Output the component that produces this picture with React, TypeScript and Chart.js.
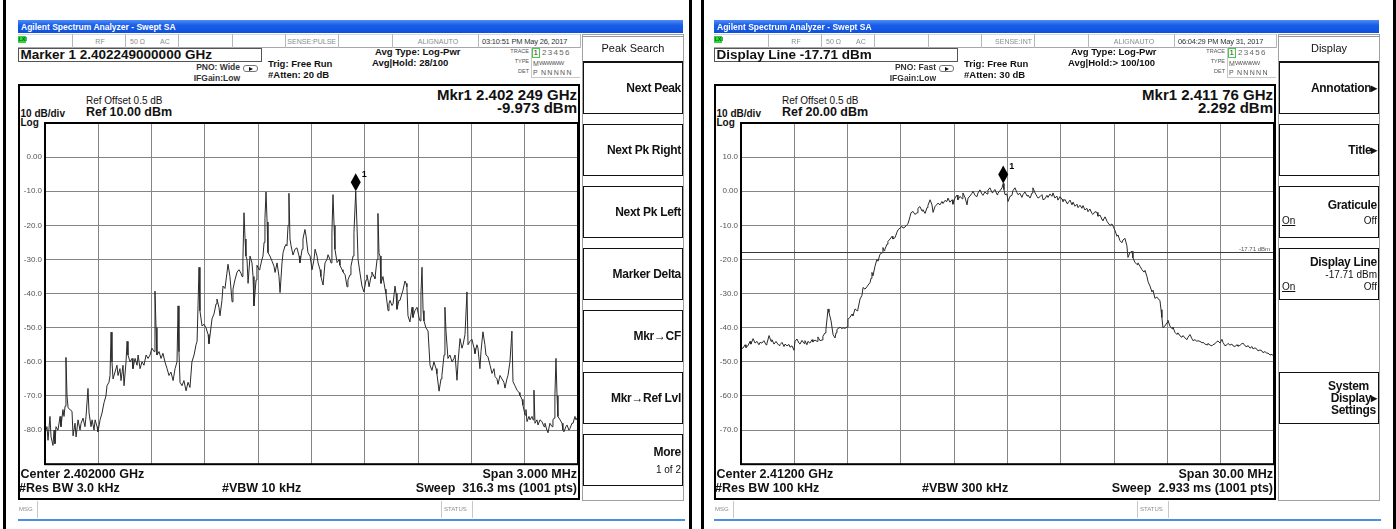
import React, { useEffect, useRef } from "react";
import { Chart, registerables } from "chart.js";
Chart.register(...registerables);

const FONT = '"Liberation Sans", Arial, Helvetica, sans-serif';

type Pt = [number, number];

// ---------------- DATA ----------------
// Left screen: trace 1, [frequency offset from 2.402000 GHz in kHz, level dBm]
const leftTrace: Pt[] = [
  [-1500,-81],[-1489,-79],[-1483,-83],[-1472,-76],[-1466,-82],[-1455,-84.5],[-1449,-80],[-1444,-84],[-1438,-79],[-1427,-80],
  [-1415,-76],[-1410,-79],[-1399,-74],[-1393,-76],[-1387,-73],[-1382,-58.7],[-1376,-70],[-1370,-73.5],[-1359,-74],[-1348,-74.5],
  [-1342,-81.7],[-1331,-78],[-1325,-82],[-1314,-77],[-1303,-80],[-1297,-78],[-1286,-76.5],[-1275,-79],[-1269,-76],[-1258,-67.8],
  [-1252,-75],[-1241,-79],[-1235,-77],[-1224,-80],[-1218,-77],[-1207,-79],[-1202,-80.5],[-1190,-77],[-1179,-75],[-1168,-72],
  [-1157,-70],[-1151,-67],[-1140,-66],[-1134,-64],[-1128,-51.3],[-1123,-60],[-1117,-65],[-1106,-63],[-1095,-61],[-1089,-64],
  [-1078,-62],[-1072,-65.5],[-1061,-61],[-1055,-67],[-1044,-60],[-1038,-54],[-1033,-58],[-1021,-60],[-1010,-59],[-1005,-62],
  [-993,-59],[-982,-61],[-976,-58],[-965,-62],[-954,-60],[-943,-61],[-931,-58],[-920,-59],[-909,-58],[-898,-56],
  [-886,-57],[-881,-39.3],[-875,-50],[-870,-58],[-858,-57],[-847,-59],[-836,-57.5],[-825,-60],[-813,-62],[-802,-64],
  [-791,-63],[-779,-65.5],[-768,-62],[-757,-60],[-751,-43.6],[-746,-57],[-740,-66],[-729,-67],[-718,-65.5],[-706,-68.5],
  [-695,-66],[-684,-67.5],[-673,-60],[-661,-58],[-650,-55],[-644,-54],[-633,-32.3],[-628,-45],[-616,-49.5],[-605,-49],
  [-594,-50],[-582,-52],[-577,-54.7],[-566,-50],[-560,-47.4],[-549,-46],[-537,-43],[-532,-41.6],[-521,-44],[-515,-46.5],
  [-504,-42],[-498,-37.8],[-487,-38.5],[-476,-34],[-470,-31.4],[-459,-35],[-447,-42.4],[-442,-38.7],[-431,-36],[-419,-33.7],
  [-408,-33],[-397,-34],[-391,-35],[-386,-30],[-380,-16.3],[-374,-24],[-369,-29],[-363,-30],[-357,-37],[-346,-29],
  [-335,-31],[-329,-35],[-324,-43.6],[-312,-36],[-307,-31.7],[-295,-33],[-290,-32.5],[-279,-30],[-273,-29],[-267,-25],
  [-262,-18],[-256,-10.2],[-250,-19],[-245,-28],[-234,-29],[-222,-30.5],[-211,-32],[-205,-33.8],[-194,-31],[-183,-35],
  [-177,-39.7],[-166,-31],[-160,-28],[-149,-26],[-144,-25.6],[-138,-26],[-132,-20],[-127,-10.6],[-121,-24],[-115,-26],
  [-104,-28.7],[-93,-27],[-82,-26.6],[-70,-29],[-65,-31],[-53,-27],[-48,-24],[-37,-21.2],[-31,-23],[-20,-28],
  [-8,-29],[3,-33],[14,-30],[20,-27],[31,-29],[37,-31],[48,-33],[53,-35],[65,-37.5],[76,-31],
  [87,-30],[93,-28.6],[104,-30],[110,-31],[115,-22],[121,-11],[127,-20],[132,-27],[144,-30.9],[155,-30],
  [160,-31.7],[172,-33],[177,-33.6],[189,-34.5],[200,-38],[205,-36],[217,-34.5],[222,-32],[234,-29],[239,-22],
  [249,-9.973],[256,-20],[262,-30],[273,-34],[284,-37.8],[295,-39.5],[307,-36],[312,-34.5],[318,-36],[324,-38],
  [335,-35],[340,-33.7],[352,-35],[357,-35.6],[369,-30],[374,-16.5],[380,-28.2],[386,-29],[391,-37],[402,-35],
  [414,-38.7],[419,-40],[431,-45],[436,-43],[442,-42],[453,-43.5],[459,-43],[470,-37.8],[476,-40],[481,-44.6],
  [492,-42],[498,-42],[509,-40],[515,-39],[526,-36.3],[532,-37],[537,-38],[543,-46.5],[554,-48.3],[566,-44],
  [571,-47],[582,-45],[594,-44],[605,-47],[611,-48],[616,-40],[622,-32.3],[628,-45],[633,-48],[644,-50],
  [656,-51],[667,-61],[678,-62.5],[689,-60],[701,-62],[706,-63.5],[718,-68.6],[729,-65],[734,-64],[746,-58],
  [751,-44],[757,-51],[768,-59],[779,-58],[791,-60],[802,-59],[808,-58],[819,-65.4],[825,-60],[836,-53.2],
  [847,-56],[853,-55],[864,-52],[875,-39.5],[881,-55],[892,-54],[903,-53.4],[915,-56],[920,-57.6],[931,-55],
  [937,-56],[948,-62],[954,-57],[965,-51.2],[976,-55],[982,-58],[993,-58.5],[1005,-61],[1016,-63.4],[1027,-62],
  [1033,-64.3],[1044,-65],[1050,-66.6],[1061,-64],[1072,-65],[1083,-66],[1089,-67.7],[1100,-65],[1106,-64],[1117,-60],
  [1128,-51],[1134,-65.8],[1145,-67],[1157,-68.3],[1168,-69],[1173,-69.8],[1185,-71],[1190,-72.7],[1202,-75.6],[1207,-74],
  [1213,-77.5],[1224,-76],[1230,-77],[1241,-76],[1247,-77],[1252,-68.3],[1258,-78],[1269,-77],[1275,-78.5],[1286,-77],
  [1297,-77.5],[1309,-79],[1314,-78],[1325,-80],[1331,-80.8],[1342,-78],[1354,-79],[1359,-77],[1365,-76.5],[1370,-70],
  [1376,-59],[1382,-70],[1387,-76],[1399,-77],[1410,-78],[1415,-80],[1421,-80.5],[1432,-79],[1438,-78.5],[1449,-80],
  [1455,-79.5],[1466,-78],[1472,-78],[1483,-76],[1489,-77],[1500,-76],
];
const leftXTicksKHz = [-1500, -1200, -900, -600, -300, 0, 300, 600, 900, 1200, 1500];
const leftYTicksDbm = [10, 0, -10, -20, -30, -40, -50, -60, -70, -80, -90];
const leftMarker = { freq: 249, level: -9.973 };

// Right screen: trace 1, [frequency offset from span start 2.397 GHz in MHz, level dBm]
const rightTrace: Pt[] = [
  [0,-46],[0.11,-46],[0.23,-45],[0.28,-45.8],[0.39,-45.3],[0.51,-44],[0.56,-44.8],[0.68,-43.2],[0.79,-44.5],[0.90,-44],
  [1.01,-45],[1.07,-44.3],[1.18,-44.5],[1.29,-43.8],[1.41,-45],[1.46,-44.6],[1.58,-42.3],[1.69,-44],[1.74,-43.5],[1.86,-44.8],
  [1.97,-44],[2.03,-44.5],[2.14,-45.2],[2.19,-45],[2.31,-44.3],[2.42,-45.5],[2.48,-44.8],[2.59,-45.3],[2.70,-44.9],[2.76,-45.7],
  [2.87,-45.3],[2.98,-46.6],[3.04,-44],[3.15,-43.3],[3.26,-44.5],[3.32,-44.8],[3.43,-43.7],[3.55,-44.6],[3.60,-43.8],[3.71,-45],
  [3.77,-44],[3.88,-44.5],[4.00,-43.5],[4.05,-44.2],[4.16,-43.6],[4.28,-44],[4.33,-42.7],[4.45,-43.8],[4.56,-43.6],[4.61,-42.5],
  [4.73,-41.5],[4.78,-40.5],[4.90,-34.5],[4.95,-35.5],[5.07,-38],[5.18,-42],[5.29,-43],[5.35,-41.5],[5.40,-40.5],[5.52,-40],
  [5.57,-39.8],[5.68,-40.3],[5.74,-40],[5.85,-40.2],[5.97,-39.8],[6.02,-37.5],[6.13,-37],[6.25,-36],[6.30,-36.5],[6.42,-34.5],
  [6.53,-35],[6.58,-34.6],[6.70,-31.6],[6.81,-30.5],[6.87,-28.2],[6.98,-28.7],[7.09,-28],[7.15,-27.5],[7.26,-26.8],[7.32,-25.5],
  [7.37,-23.8],[7.43,-24.8],[7.54,-22],[7.65,-20],[7.71,-20.5],[7.82,-18.5],[7.94,-18],[7.99,-16.5],[8.05,-17.4],[8.10,-17],
  [8.22,-15.5],[8.27,-14.7],[8.39,-14],[8.50,-13.2],[8.55,-14],[8.67,-13.6],[8.78,-12],[8.84,-11.3],[8.95,-10.8],[9.06,-10.3],
  [9.12,-10.8],[9.23,-10.5],[9.34,-9.8],[9.40,-9.5],[9.51,-7.5],[9.57,-6.3],[9.68,-5.9],[9.79,-6.8],[9.91,-6.3],[9.96,-5],
  [10.07,-4.5],[10.19,-5.8],[10.24,-5.4],[10.36,-6.5],[10.47,-4.8],[10.52,-4.2],[10.64,-2.5],[10.75,-4],[10.81,-6.2],[10.92,-4.5],
  [11.03,-3.8],[11.09,-3.5],[11.20,-4],[11.31,-3],[11.37,-3.6],[11.48,-2.7],[11.59,-3],[11.65,-2],[11.76,-3.2],[11.88,-2.5],
  [11.93,-3.8],[12.04,-2],[12.16,-1.1],[12.21,-2.5],[12.33,-1.5],[12.44,-2.2],[12.49,-0.5],[12.61,-1.8],[12.72,-4],[12.78,-2],
  [12.89,-1.4],[13.00,-0.6],[13.06,0],[13.17,-1.2],[13.28,-1.6],[13.34,-0.5],[13.45,0.4],[13.56,-0.8],[13.62,-1.2],[13.73,-0.2],
  [13.85,-0.8],[13.90,0.3],[14.01,1],[14.13,-0.4],[14.18,-0.1],[14.30,0.5],[14.41,-1],[14.46,-0.6],[14.58,0.2],[14.69,1],
  [14.76,2.292],[14.80,0.5],[14.86,-1],[14.97,-0.8],[15.03,-3],[15.14,-1.5],[15.25,-1.2],[15.31,0.2],[15.42,1],[15.53,-0.4],
  [15.59,-1],[15.70,-0.6],[15.81,-1.8],[15.87,-1],[15.98,-0.2],[16.10,-1.4],[16.15,-1.1],[16.27,-2],[16.38,-0.5],[16.43,1],
  [16.55,-0.5],[16.66,-1.5],[16.72,-2],[16.83,-1.6],[16.94,-1],[17.00,-2.5],[17.11,-2.2],[17.22,-1.2],[17.28,-1.8],[17.39,-0.8],
  [17.50,-1.5],[17.56,-0.5],[17.67,-2],[17.78,-1.4],[17.84,-2.6],[17.95,-1.6],[18.07,-2.3],[18.12,-3],[18.24,-2.4],[18.35,-3.6],
  [18.40,-3.4],[18.52,-2.6],[18.63,-4],[18.69,-3.2],[18.80,-4.4],[18.91,-3.8],[18.97,-4.8],[19.08,-4.1],[19.19,-5],[19.25,-4.2],
  [19.36,-5.5],[19.47,-5],[19.53,-6],[19.64,-5.2],[19.75,-6.5],[19.81,-6.8],[19.92,-6],[20.04,-6.2],[20.09,-7.3],[20.21,-7],
  [20.32,-8.3],[20.37,-8.6],[20.49,-7.5],[20.60,-8.8],[20.66,-9.3],[20.77,-10],[20.88,-9.6],[20.94,-10.2],[21.05,-11.5],[21.16,-13.2],
  [21.22,-12.8],[21.33,-14.5],[21.44,-15.1],[21.50,-14.3],[21.61,-13.8],[21.72,-16],[21.78,-19.4],[21.89,-18],[22.01,-17.6],[22.06,-19.5],
  [22.17,-20.8],[22.29,-21.5],[22.34,-21],[22.46,-22],[22.57,-23],[22.68,-23.7],[22.74,-23.2],[22.85,-25],[22.91,-26.5],[23.02,-27.8],
  [23.13,-29.5],[23.19,-29],[23.30,-31.4],[23.41,-31],[23.47,-31.5],[23.58,-32],[23.64,-34.7],[23.69,-37],[23.75,-40],[23.86,-39.5],
  [23.98,-38.5],[24.03,-37.8],[24.14,-39.5],[24.26,-40.3],[24.31,-39.8],[24.43,-41.4],[24.54,-42],[24.59,-41.5],[24.71,-42.4],[24.82,-42.8],
  [24.88,-42.3],[24.99,-43],[25.10,-43.5],[25.16,-42.8],[25.27,-42],[25.38,-43.2],[25.44,-43.8],[25.55,-43.5],[25.66,-44],[25.72,-43.8],
  [25.83,-44],[25.95,-44.4],[26.00,-44.2],[26.11,-44.8],[26.23,-45],[26.28,-44.6],[26.40,-45.1],[26.51,-45.3],[26.56,-45],[26.68,-44.7],
  [26.79,-44],[26.85,-43.9],[26.96,-44.5],[27.07,-43.4],[27.13,-44.3],[27.24,-45.3],[27.35,-45],[27.41,-44.6],[27.52,-45.1],[27.63,-44.8],
  [27.69,-45.3],[27.80,-45.5],[27.92,-45],[27.97,-45.4],[28.08,-45.2],[28.20,-44.6],[28.25,-44.5],[28.37,-45.3],[28.48,-45.6],[28.53,-45.2],
  [28.65,-46],[28.76,-45.5],[28.82,-46.2],[28.93,-45.9],[29.04,-46.3],[29.10,-46.8],[29.21,-46.5],[29.32,-46.8],[29.38,-47.3],[29.49,-47],
  [29.60,-47.5],[29.66,-47.4],[29.77,-48],[29.89,-47.8],[30.00,-48.5],
];
const rightXTicksMHz = [0, 3, 6, 9, 12, 15, 18, 21, 24, 27, 30];
const rightYTicksDbm = [20, 10, 0, -10, -20, -30, -40, -50, -60, -70, -80];
const rightMarker = { freq: 14.76, level: 2.292 };
const rightDisplayLineDbm = -17.71;

// ---------------- HELPERS ----------------
type TP = { x: number; y: number; s?: number; b?: boolean; a?: "left" | "right" | "center"; c?: string; u?: boolean; ls?: number; children: React.ReactNode };
function T({ x, y, s = 10, b = false, a = "left", c = "#000", u = false, ls = 0, children }: TP) {
  const style: React.CSSProperties = {
    position: "absolute",
    top: y - 0.8465 * s,
    fontFamily: FONT,
    fontSize: s,
    lineHeight: `${s}px`,
    fontWeight: b ? "bold" : "normal",
    color: c,
    whiteSpace: "pre",
    letterSpacing: ls,
    textDecoration: u ? "underline" : "none",
  };
  if (a === "left") style.left = x;
  else if (a === "right") { style.left = x - 500; style.width = 500; style.textAlign = "right"; }
  else { style.left = x - 250; style.width = 500; style.textAlign = "center"; }
  return <div style={style}>{children}</div>;
}

function Box({ x, y, w, h, st }: { x: number; y: number; w: number; h: number; st?: React.CSSProperties }) {
  return <div style={{ position: "absolute", left: x, top: y, width: w, height: h, boxSizing: "border-box", ...st }} />;
}

// ---------------- CHART ----------------
type ChartProps = { ox: number; trace: Pt[]; xTicks: number[]; yTicks: number[]; marker: { freq: number; level: number }; displayLine?: number | null };

function SpectrumChart({ ox, trace, xTicks, yTicks, marker, displayLine = null }: ChartProps) {
  const ref = useRef<HTMLCanvasElement | null>(null);
  useEffect(() => {
    if (!ref.current) return;
    const xMin = xTicks[0], xMax = xTicks[xTicks.length - 1];
    const yMax = yTicks[0], yMin = yTicks[yTicks.length - 1];
    const overlay = {
      id: "saOverlay",
      afterDatasetsDraw(chart: any) {
        const { ctx, chartArea: a } = chart;
        const xs = chart.scales.x, ys = chart.scales.y;
        ctx.save();
        if (displayLine !== null) {
          const py = Math.round(ys.getPixelForValue(displayLine)) + 0.5;
          ctx.strokeStyle = "#3a3a3a";
          ctx.lineWidth = 1;
          ctx.beginPath();
          ctx.moveTo(a.left, py);
          ctx.lineTo(a.right, py);
          ctx.stroke();
          ctx.font = `6px ${FONT}`;
          ctx.fillStyle = "#555";
          ctx.textAlign = "right";
          ctx.textBaseline = "alphabetic";
          ctx.fillText(`${displayLine.toFixed(2)} dBm`, a.right - 4, py - 2);
        }
        ctx.strokeStyle = "#000";
        ctx.lineWidth = 2;
        ctx.strokeRect(a.left, a.top, a.right - a.left, a.bottom - a.top);
        const mx = xs.getPixelForValue(marker.freq);
        const my = ys.getPixelForValue(marker.level);
        ctx.fillStyle = "#000";
        ctx.beginPath();
        ctx.moveTo(mx, my - 18);
        ctx.lineTo(mx + 5, my - 9);
        ctx.lineTo(mx, my);
        ctx.lineTo(mx - 5, my - 9);
        ctx.closePath();
        ctx.fill();
        ctx.font = `bold 9px ${FONT}`;
        ctx.textAlign = "left";
        ctx.textBaseline = "alphabetic";
        ctx.fillText("1", mx + 6, my - 14);
        ctx.restore();
      },
    };
    const chart = new Chart(ref.current, {
      type: "line",
      data: {
        datasets: [
          {
            data: trace.map(([x, y]) => ({ x, y })),
            borderColor: "#2a2a2a",
            borderWidth: 1,
            pointRadius: 0,
            tension: 0,
            fill: false,
          },
        ],
      },
      options: {
        animation: false,
        responsive: false,
        maintainAspectRatio: false,
        devicePixelRatio: 1,
        layout: { padding: { left: 0, top: 11, right: 2, bottom: 6 } },
        plugins: { legend: { display: false }, tooltip: { enabled: false } },
        scales: {
          x: {
            type: "linear",
            min: xMin,
            max: xMax,
            afterBuildTicks: (s: any) => { s.ticks = xTicks.map((v) => ({ value: v })); },
            afterFit: (s: any) => { s.height = 0; },
            ticks: { display: false },
            grid: { color: "#858585", lineWidth: 1, drawTicks: false },
            border: { display: false },
          },
          y: {
            type: "linear",
            min: yMin,
            max: yMax,
            afterBuildTicks: (s: any) => { s.ticks = yTicks.map((v) => ({ value: v })); },
            afterFit: (s: any) => { s.width = 26; },
            ticks: {
              font: { family: "Liberation Sans", size: 8 },
              color: "#555",
              padding: 3,
              callback: (v: any) => {
                const n = Number(v);
                if (n === yMax || n === yMin) return "";
                return n === 0 ? "0.00" : n.toFixed(1);
              },
            },
            grid: { color: "#858585", lineWidth: 1, drawTicks: false },
            border: { display: false },
          },
        },
      } as any,
      plugins: [overlay],
    });
    return () => chart.destroy();
  }, []);
  return (
    <canvas
      ref={ref}
      width={561}
      height={360}
      style={{ position: "absolute", left: ox + 19, top: 112, width: 561, height: 360 }}
    />
  );
}

// ---------------- SCREEN ----------------
type PanelText = {
  sense: string; time: string; headline: string; pno: string; atten: string; avgHold: string;
  ref: string; mkrFreq: string; mkrLevel: string; center: string; rbw: string; vbw: string; vbwX: number; span: string; sweep: string;
};

function Screen({ ox, p, children }: { ox: number; p: PanelText; children: React.ReactNode }) {
  const X = (v: number) => ox + v;
  const dividers = [72, 125, 178, 232, 285, 338, 392, 478];
  const grey = "#8c8c8c";
  return (
    <>
      {/* title bar */}
      <Box x={X(18)} y={20} w={665} h={13} st={{ background: "linear-gradient(180deg,#4d8cf8 0%,#1a5ee8 40%,#0d50dc 100%)" }} />
      <T x={X(21)} y={30} s={8.5} b c="#fff">Agilent Spectrum Analyzer - Swept SA</T>
      {/* status row */}
      <Box x={X(18)} y={34} w={562} h={14} st={{ borderBottom: "1px solid #a8a8a8", borderTop: "1px solid #d8d8d8" }} />
      {dividers.map((d) => <Box key={d} x={X(d)} y={34} w={1} h={14} st={{ background: "#b8b8b8" }} />)}
      <Box x={X(580)} y={34} w={1} h={14} st={{ background: "#b8b8b8" }} />
      <Box x={X(18)} y={36} w={8} h={7} st={{ background: "#33d633" }} />
      <T x={X(18.5)} y={42} s={5.5} b c="#063">LXI</T>
      <T x={X(100)} y={44} s={7} a="center" c={grey}>RF</T>
      <T x={X(130)} y={44} s={7} c={grey}>50 Ω</T>
      <T x={X(160)} y={44} s={7} c={grey}>AC</T>
      <T x={X(336)} y={44} s={7} a="right" c={grey}>{p.sense}</T>
      <T x={X(438)} y={44} s={7} a="center" c={grey}>ALIGNAUTO</T>
      <T x={X(482)} y={44} s={7.5} c="#333" ls={-0.2}>{p.time}</T>

      {/* headline box */}
      <Box x={X(18)} y={48} w={244} h={14} st={{ border: "1px solid #555" }} />
      <T x={X(20.5)} y={59} s={13.5} b c="#111">{p.headline}</T>
      <T x={X(240)} y={70.5} s={8.5} b a="right" c="#333">{p.pno}</T>
      <T x={X(240)} y={81} s={8.5} b a="right" c="#333">IFGain:Low</T>
      <Box x={X(243)} y={65} w={15} h={7} st={{ border: "1px solid #777", borderRadius: 3 }} />
      <div style={{ position: "absolute", left: X(249), top: 67, width: 0, height: 0, borderTop: "2px solid transparent", borderBottom: "2px solid transparent", borderLeft: "4px solid #111" }} />
      <T x={X(268)} y={67} s={9.5} b c="#111">Trig: Free Run</T>
      <T x={X(268)} y={78.5} s={9.5} b c="#111">{p.atten}</T>
      <T x={X(375)} y={55} s={9.5} b c="#111">Avg Type: Log-Pwr</T>
      <T x={X(372)} y={66.5} s={9.5} b c="#111">{p.avgHold}</T>

      {/* trace table */}
      <Box x={X(531)} y={47} w={49} h={31} st={{ borderLeft: "1px solid #c8c8c8", borderBottom: "1px solid #c8c8c8" }} />
      <T x={X(529)} y={54} s={5.5} a="right" c="#555">TRACE</T>
      <T x={X(529)} y={64} s={5.5} a="right" c="#555">TYPE</T>
      <T x={X(529)} y={74} s={5.5} a="right" c="#555">DET</T>
      <Box x={X(532)} y={48} w={8} h={10} st={{ border: "1px solid #4c4" }} />
      <T x={X(533.5)} y={56} s={8} c="#333">1</T>
      <T x={X(542)} y={56} s={8} c="#666" ls={1.3}>23456</T>
      <T x={X(533)} y={65.5} s={7} c="#555">M</T>
      <T x={X(539)} y={65.5} s={6} c="#555" ls={-0.8}>WWWWW</T>
      <T x={X(533)} y={75} s={7} c="#555">P</T>
      <T x={X(541)} y={75} s={7} c="#555" ls={1.3}>NNNNN</T>

      {/* big frame */}
      <Box x={X(18)} y={84} w={562} h={416} st={{ border: "2px solid #000" }} />
      <T x={X(86)} y={104} s={10} c="#111">Ref Offset 0.5 dB</T>
      <T x={X(86)} y={117} s={12.5} b c="#111">{p.ref}</T>
      <T x={X(20.5)} y={117} s={10} b c="#111">10 dB/div</T>
      <T x={X(20.5)} y={126} s={10} b c="#111">Log</T>
      <T x={X(577)} y={100} s={15} b a="right" c="#111">{p.mkrFreq}</T>
      <T x={X(577)} y={112.5} s={15} b a="right" c="#111">{p.mkrLevel}</T>

      {children}

      <T x={X(20.5)} y={479} s={12.5} b c="#111">{p.center}</T>
      <T x={X(19)} y={493} s={12.5} b c="#111">{p.rbw}</T>
      <T x={X(p.vbwX)} y={493} s={12.5} b c="#111">{p.vbw}</T>
      <T x={X(577)} y={479} s={12.5} b a="right" c="#111">{p.span}</T>
      <T x={X(577)} y={493} s={12.5} b a="right" c="#111">{p.sweep}</T>

      {/* message row */}
      <T x={X(19)} y={511} s={6} c={grey}>MSG</T>
      <Box x={X(37)} y={501} w={1} h={17} st={{ background: "#c8c8c8" }} />
      <Box x={X(441)} y={501} w={1} h={17} st={{ background: "#c8c8c8" }} />
      <Box x={X(472)} y={501} w={1} h={17} st={{ background: "#c8c8c8" }} />
      <T x={X(444)} y={511} s={6} c={grey}>STATUS</T>
      <Box x={X(18)} y={519} w={667} h={1.5} st={{ background: "#4a8fe0" }} />

      {/* softkey frame */}
      <Box x={X(582)} y={34} w={102} h={467} st={{ border: "1px solid #a0a0a0" }} />
      <Box x={X(583)} y={36} w={100} h={26} st={{ borderTop: "1px solid #999", borderBottom: "1.5px solid #111" }} />
    </>
  );
}

function Key({ ox, top }: { ox: number; top: number }) {
  return <Box x={ox + 583} y={top} w={100} h={52} st={{ border: "1.5px solid #111" }} />;
}

function LeftMenu({ ox }: { ox: number }) {
  const R = ox + 681;
  const keys = [62, 124, 186, 248, 310, 372, 434];
  const labels = ["Next Peak", "Next Pk Right", "Next Pk Left", "Marker Delta", "Mkr\u2192CF", "Mkr\u2192Ref Lvl"];
  return (
    <>
      <T x={ox + 633} y={52} s={11} a="center" c="#111">Peak Search</T>
      {keys.map((k) => <Key key={k} ox={ox} top={k} />)}
      {labels.map((l, i) => (
        <T key={l} x={R} y={keys[i] + 30.5} s={12} b a="right" c="#111" ls={-0.3}>{l}</T>
      ))}
      <T x={R} y={456.5} s={12} b a="right" c="#111" ls={-0.3}>More</T>
      <T x={R} y={473} s={10} a="right" c="#111">1 of 2</T>
    </>
  );
}

function RightMenu({ ox }: { ox: number }) {
  const R = ox + 681;
  const L = ox + 586;
  return (
    <>
      <T x={ox + 633} y={52} s={11} a="center" c="#111">Display</T>
      {[62, 124, 186, 248, 372].map((k) => <Key key={k} ox={ox} top={k} />)}
      <T x={R} y={92.5} s={12} b a="right" c="#111" ls={-0.3}>Annotation▸</T>
      <T x={R} y={154.5} s={12} b a="right" c="#111" ls={-0.3}>Title▸</T>
      <T x={R} y={209} s={12} b a="right" c="#111" ls={-0.3}>Graticule</T>
      <T x={L} y={224} s={10} u c="#111">On</T>
      <T x={R} y={224} s={10} a="right" c="#111">Off</T>
      <T x={R} y={266} s={12} b a="right" c="#111" ls={-0.3}>Display Line</T>
      <T x={R} y={278.5} s={10} a="right" c="#111">-17.71 dBm</T>
      <T x={L} y={290.5} s={10} u c="#111">On</T>
      <T x={R} y={290.5} s={10} a="right" c="#111">Off</T>
      <T x={ox + 673} y={390} s={12} b a="right" c="#111" ls={-0.3}>System</T>
      <T x={R} y={402} s={12} b a="right" c="#111" ls={-0.3}>Display▸</T>
      <T x={ox + 680} y={414} s={12} b a="right" c="#111" ls={-0.3}>Settings</T>
    </>
  );
}

const leftText: PanelText = {
  sense: "SENSE:PULSE", time: "03:10:51 PM May 26, 2017", headline: "Marker 1 2.402249000000 GHz",
  pno: "PNO: Wide", atten: "#Atten: 20 dB", avgHold: "Avg|Hold: 28/100", ref: "Ref 10.00 dBm",
  mkrFreq: "Mkr1 2.402 249 GHz", mkrLevel: "-9.973 dBm", center: "Center 2.402000 GHz", rbw: "#Res BW 3.0 kHz",
  vbw: "#VBW 10 kHz", vbwX: 222, span: "Span 3.000 MHz", sweep: "Sweep  316.3 ms (1001 pts)",
};
const rightText: PanelText = {
  sense: "SENSE:INT", time: "06:04:29 PM May 31, 2017", headline: "Display Line -17.71 dBm",
  pno: "PNO: Fast", atten: "#Atten: 30 dB", avgHold: "Avg|Hold:> 100/100", ref: "Ref 20.00 dBm",
  mkrFreq: "Mkr1 2.411 76 GHz", mkrLevel: "2.292 dBm", center: "Center 2.41200 GHz", rbw: "#Res BW 100 kHz",
  vbw: "#VBW 300 kHz", vbwX: 226, span: "Span 30.00 MHz", sweep: "Sweep  2.933 ms (1001 pts)",
};

export default function App() {
  const RO = 696;
  return (
    <div style={{ position: "absolute", left: 0, top: 0, width: 1396, height: 529, background: "#fff", overflow: "hidden", fontFamily: FONT }}>
      {[3, 689, 701, 1393].map((x) => <Box key={x} x={x} y={0} w={3} h={529} st={{ background: "#000" }} />)}
      <Screen ox={0} p={leftText}>
        <SpectrumChart ox={0} trace={leftTrace} xTicks={leftXTicksKHz} yTicks={leftYTicksDbm} marker={leftMarker} />
      </Screen>
      <LeftMenu ox={0} />
      <Screen ox={RO} p={rightText}>
        <SpectrumChart ox={RO} trace={rightTrace} xTicks={rightXTicksMHz} yTicks={rightYTicksDbm} marker={rightMarker} displayLine={rightDisplayLineDbm} />
      </Screen>
      <RightMenu ox={RO} />
    </div>
  );
}
